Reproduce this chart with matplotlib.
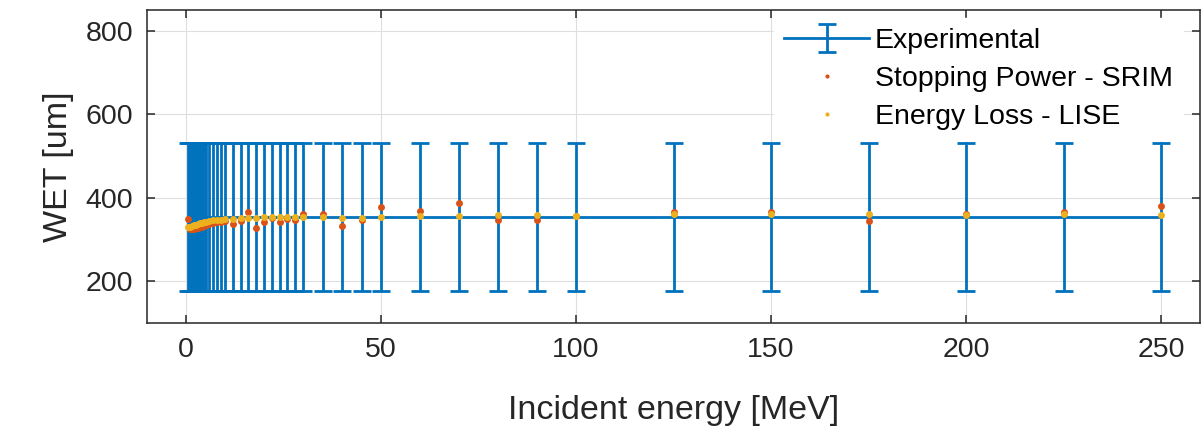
import matplotlib
matplotlib.use("Agg")
import matplotlib.pyplot as plt

# Incident proton energies [MeV]
energy = [0.5, 1, 1.5, 2, 2.5, 3, 3.5, 4, 4.5, 5,
          6, 7, 8, 9, 10,
          12, 14, 16, 18, 20, 22, 24, 26, 28, 30,
          35, 40, 45, 50, 60, 70, 80, 90, 100,
          125, 150, 175, 200, 225, 250]

# Measured water-equivalent thickness [um] and its uncertainty
wet_exp = [355] * len(energy)
wet_err = [177.5] * len(energy)

# WET from SRIM stopping powers [um]
wet_srim = [349, 326, 325, 326, 327, 328, 330, 331, 333, 334,
            337, 340, 342, 343, 344,
            337, 345, 366, 328, 341, 352, 343, 350, 347, 362,
            360, 333, 346, 379, 368, 388, 347, 346, 356,
            367, 365, 345, 360, 367, 380]

# WET from LISE energy loss [um]
wet_lise = [330, 331, 333, 334, 336, 337, 339, 340, 341, 342,
            344, 346, 347, 348, 349,
            350, 351, 352, 352, 353, 353, 354, 354, 355, 355,
            355, 352, 352, 355, 356, 356, 358, 358, 357,
            360, 360, 362, 358, 360, 358]

x_ticks = [0, 50, 100, 150, 200, 250]
y_ticks = [200, 400, 600, 800]

blue = (0.0, 0.447, 0.741)
orange = (0.85, 0.325, 0.098)
yellow = (0.929, 0.694, 0.125)
dark = (0.15, 0.15, 0.15)

plt.rcParams['font.family'] = ['Liberation Sans', 'DejaVu Sans']

W, H = 1204, 426
fig = plt.figure(figsize=(W / 100, H / 100), dpi=100)
ax = fig.add_axes([147 / W, 1 - 323 / H, (1200 - 147) / W, (323 - 10) / H])

h_exp = ax.errorbar(energy, wet_exp, yerr=wet_err, color=blue, lw=2.0,
                    elinewidth=2.0, capsize=6.5, capthick=2.0,
                    label='Experimental', zorder=2)
h_srim, = ax.plot(energy, wet_srim, 'o', color=orange, ms=5.0, mew=0, ls='none',
                  label='Stopping Power - SRIM', zorder=3)
h_lise, = ax.plot(energy, wet_lise, 'o', color=yellow, ms=5.0, mew=0, ls='none',
                  label='Energy Loss - LISE', zorder=4)

ax.set_xlim(-10, 260)
ax.set_ylim(100, 850)
ax.set_xticks(x_ticks)
ax.set_yticks(y_ticks)

ax.grid(True, color=(0.87, 0.87, 0.87), lw=0.8)
ax.set_axisbelow(True)

for s in ax.spines.values():
    s.set_color(dark)
    s.set_linewidth(1.1)

ax.tick_params(direction='in', top=True, right=True, length=6, width=1.1,
               color=dark, labelcolor=dark, labelsize=20.5)
ax.tick_params(axis='x', pad=10)
ax.tick_params(axis='y', pad=10)

ax.set_xlabel('Incident energy [MeV]', fontsize=24.5, color=dark, labelpad=23)
ax.set_ylabel('WET [um]', fontsize=24.5, color=dark, labelpad=8)

leg = ax.legend([h_exp, h_srim, h_lise],
                ['Experimental', 'Stopping Power - SRIM', 'Energy Loss - LISE'],
                loc='upper right', bbox_to_anchor=(1183 / W, 1 - 18 / H),
                bbox_transform=fig.transFigure, borderaxespad=0,
                fontsize=20.5, frameon=True, fancybox=False,
                edgecolor='white', framealpha=1.0, handlelength=3.0,
                handletextpad=0.2, borderpad=0.35, labelspacing=0.42,
                markerscale=0.6)

fig.savefig('out.png', dpi=100)
